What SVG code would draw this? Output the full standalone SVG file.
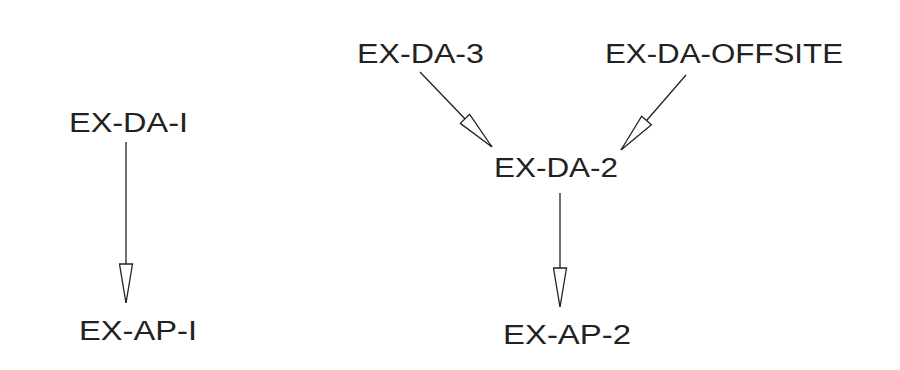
<svg xmlns="http://www.w3.org/2000/svg" width="900" height="370" viewBox="0 0 900 370">
<style>
  .lbl { font-family: "Liberation Sans", "DejaVu Sans", sans-serif; font-size: 27px; fill: #222; }
  .edge { stroke: #222; stroke-width: 1.3; fill: none; marker-end: url(#open); }
</style>
<defs>
  <marker id="open" viewBox="0 0 40 15" refX="40" refY="7.5" markerWidth="40" markerHeight="15" markerUnits="userSpaceOnUse" orient="auto">
    <path d="M1,1 L40,7.5 L1,14 Z" fill="#fff" stroke="#222" stroke-width="1.3"/>
  </marker>
</defs>
<rect width="900" height="370" fill="#fff"/>
<g id="connectors">
  <line class="edge" x1="126" y1="142" x2="126" y2="303"/>
  <line class="edge" x1="420" y1="72" x2="492" y2="147"/>
  <line class="edge" x1="686" y1="75" x2="621" y2="150"/>
  <line class="edge" x1="560" y1="193" x2="560" y2="307"/>
</g>
<g id="EX-DA-1"><text class="lbl" x="69" y="132" textLength="119" lengthAdjust="spacingAndGlyphs">EX-DA-I</text></g>
<g id="EX-AP-1"><text class="lbl" x="79" y="340" textLength="118" lengthAdjust="spacingAndGlyphs">EX-AP-I</text></g>
<g id="EX-DA-3"><text class="lbl" x="357" y="63" textLength="127" lengthAdjust="spacingAndGlyphs">EX-DA-3</text></g>
<g id="EX-DA-OFFSITE"><text class="lbl" x="605" y="63" textLength="238" lengthAdjust="spacingAndGlyphs">EX-DA-OFFSITE</text></g>
<g id="EX-DA-2"><text class="lbl" x="494" y="177" textLength="124" lengthAdjust="spacingAndGlyphs">EX-DA-2</text></g>
<g id="EX-AP-2"><text class="lbl" x="503" y="344" textLength="128" lengthAdjust="spacingAndGlyphs">EX-AP-2</text></g>
</svg>
